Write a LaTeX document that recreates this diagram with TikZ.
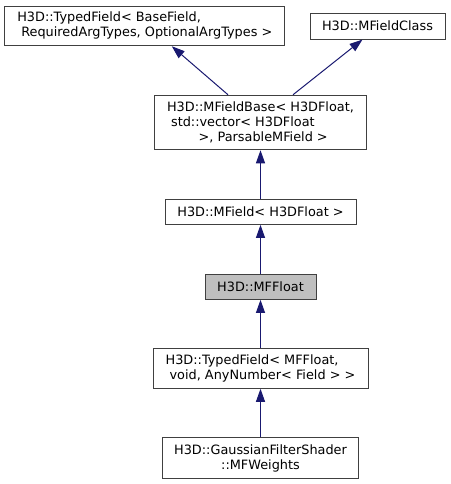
\documentclass[tikz,border=0pt]{standalone}
\usepackage{fontspec}
\setmainfont{DejaVu Sans}
\usetikzlibrary{arrows.meta}
\definecolor{edgeblue}{HTML}{191970}
\definecolor{boxline}{HTML}{404040}
\definecolor{hilite}{HTML}{BFBFBF}
\tikzset{
  cls/.style={draw=boxline, line width=1pt, fill=white, inner sep=0pt, rectangle,
    font=\fontsize{12.85}{15}\selectfont},
  inh/.style={draw=edgeblue, line width=1pt, -{Triangle[length=13pt,width=9pt]}, edgeblue},
}
\begin{document}
\begin{tikzpicture}[x=1pt,y=1pt]
\useasboundingbox (0,0) rectangle (450,-484);
\node[cls, minimum width=280.3pt, minimum height=39.7pt, align=left] (b1) at (144.8,-25.9)
  {H3D::TypedField< BaseField,\\\hspace*{4pt}RequiredArgTypes, OptionalArgTypes >};
\node[cls, minimum width=135pt, minimum height=25.7pt] (b2) at (377.5,-26.2)
  {H3D::MFieldClass};
\node[cls, minimum width=212pt, minimum height=54.5pt, align=left] (b3) at (260.5,-122.5)
  {H3D::MFieldBase< H3DFloat,\\\hspace*{4pt}std::vector< H3DFloat\\\hspace*{31.6pt}>, ParsableMField >};
\node[cls, minimum width=191pt, minimum height=25.3pt] (b4) at (260.5,-211.7)
  {H3D::MField< H3DFloat >};
\node[cls, fill=hilite, minimum width=111pt, minimum height=25.3pt] (b5) at (260.5,-286.7)
  {H3D::MFFloat};
\node[cls, minimum width=215pt, minimum height=40pt, align=left] (b6) at (260.5,-368.3)
  {H3D::TypedField< MFFloat,\\\hspace*{4pt}void, AnyNumber< Field > >};
\node[cls, minimum width=196pt, minimum height=40.6pt, align=center] (b7) at (260.5,-458)
  {H3D::GaussianFilterShader\\::MFWeights};
\draw[inh] ([xshift=-32.5pt]b3.north) -- ([xshift=27pt]b1.south);
\draw[inh] ([xshift=32.5pt]b3.north) -- ([xshift=-15pt]b2.south);
\draw[inh] (b4.north) -- (b3.south);
\draw[inh] (b5.north) -- (b4.south);
\draw[inh] (b6.north) -- (b5.south);
\draw[inh] (b7.north) -- (b6.south);
\end{tikzpicture}
\end{document}
